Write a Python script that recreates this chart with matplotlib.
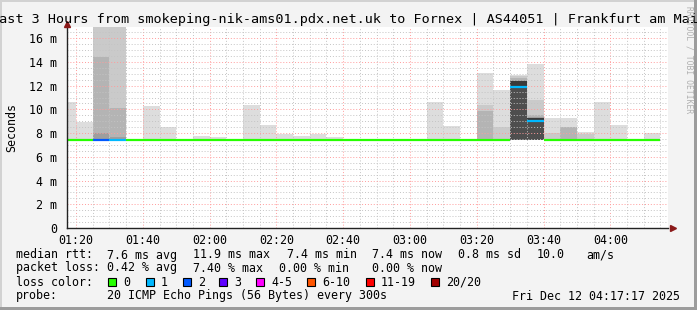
import numpy as np
import matplotlib
matplotlib.use("Agg")
import matplotlib.pyplot as plt
from matplotlib.patches import Rectangle
from matplotlib.ticker import MultipleLocator, FuncFormatter

# dados (ms), um valor por intervalo de 5 min, de 01:15 a 04:10
bin_start = np.arange(75, 255, 5)  # minutos desde 00:00
nan = np.nan

median_ms = [7.45, 7.45, 7.45, 7.45, 7.45, 7.45, 7.45, 7.45, 7.45, 7.45, 7.45, 7.45,
             7.45, 7.45, 7.45, 7.45, 7.45, 7.45, 7.45, 7.45, 7.45, 7.45, 7.45, 7.45,
             7.45, 7.45, 7.45, 11.9, 9.0, 7.45, 7.45, 7.45, 7.45, 7.45, 7.45, 7.45]
loss_idx = [0, 0, 2, 1, 0, 0, 0, 0, 0, 0, 0, 0,
            0, 0, 0, 0, 0, 0, 0, 0, 0, 0, 0, 0,
            0, 0, 0, 1, 1, 0, 0, 0, 0, 0, 0, 0]

# camadas de "fumaça" (topo de cada camada), da mais externa para a mais interna
smoke_1 = [10.6, 8.9, 17.5, 17.5, nan, 10.3, 8.5, nan, 7.8, 7.65, nan, 10.4,
           8.7, 7.9, 7.75, 7.9, 7.65, nan, nan, nan, nan, nan, 10.65, 8.6,
           nan, 13.05, 11.6, 12.9, 13.85, 9.25, 9.3, 8.1, 10.65, 8.65, nan, 8.05]
smoke_2 = [nan, nan, 17.5, 17.5, nan, nan, nan, nan, nan, nan, nan, nan,
           nan, nan, nan, nan, nan, nan, nan, nan, nan, nan, nan, nan,
           nan, 10.4, 8.5, 12.8, 10.8, 8.0, 8.55, 7.9, nan, nan, nan, nan]
smoke_3 = [nan, nan, 14.4, 10.1, nan, nan, nan, nan, nan, nan, nan, nan,
           nan, nan, nan, nan, nan, nan, nan, nan, nan, nan, nan, nan,
           nan, 9.9, nan, 12.65, 9.5, nan, 8.5, nan, nan, nan, nan, nan]
smoke_4 = [nan, nan, 8.0, 7.7, nan, nan, nan, nan, nan, nan, nan, nan,
           nan, nan, nan, nan, nan, nan, nan, nan, nan, nan, nan, nan,
           nan, nan, nan, 12.5, 9.4, nan, nan, nan, nan, nan, nan, nan]
smoke_5 = [nan, nan, nan, nan, nan, nan, nan, nan, nan, nan, nan, nan,
           nan, nan, nan, nan, nan, nan, nan, nan, nan, nan, nan, nan,
           nan, nan, nan, 12.4, 9.25, nan, nan, nan, nan, nan, nan, nan]
smoke_6 = [nan, nan, nan, nan, nan, nan, nan, nan, nan, nan, nan, nan,
           nan, nan, nan, nan, nan, nan, nan, nan, nan, nan, nan, nan,
           nan, nan, nan, 12.0, 9.1, nan, nan, nan, nan, nan, nan, nan]
smoke_base = 7.45

loss_labels = ["0", "1", "2", "3", "4-5", "6-10", "11-19", "20/20"]
loss_colors = ["#26ff00", "#00b8ff", "#0059ff", "#5e00ff", "#ff00ff", "#ff5500", "#ff0000", "#a10000"]

xtick_min = [80, 100, 120, 140, 160, 180, 200, 220, 240]
xtick_lab = ["01:20", "01:40", "02:00", "02:20", "02:40", "03:00", "03:20", "03:40", "04:00"]

W, H = 697, 310
MONO = "DejaVu Sans Mono"
fig = plt.figure(figsize=(W / 100, H / 100), dpi=100, facecolor="#f3f3f3")
ax = fig.add_axes([67 / W, 1 - 228 / H, 601 / W, 201 / H])
ax.set_facecolor("white")

layers = [(smoke_1, "#dddddd"), (smoke_2, "#cacaca"), (smoke_3, "#b4b4b4"),
          (smoke_4, "#9e9e9e"), (smoke_5, "#3a3a3a"), (smoke_6, "#4e4e4e")]
for vals, col in layers:
    v = np.array(vals, dtype=float)
    ok = ~np.isnan(v)
    ax.bar(bin_start[ok], v[ok] - smoke_base, bottom=smoke_base, width=5, align="edge",
           color=col, linewidth=0, zorder=1)

# linha da mediana colorida pela perda
ax.hlines(median_ms, bin_start, bin_start + 5, colors=[loss_colors[i] for i in loss_idx],
          linewidth=1.6, zorder=4)

ax.set_xlim(77.283, 257.283)
ax.set_ylim(0, 16.95)
ax.set_xticks(xtick_min)
ax.set_xticklabels(xtick_lab)
ax.xaxis.set_minor_locator(MultipleLocator(5))
ax.yaxis.set_major_locator(MultipleLocator(2))
ax.yaxis.set_minor_locator(MultipleLocator(0.5))
ax.yaxis.set_major_formatter(FuncFormatter(lambda v, p: "0" if v == 0 else "%d m" % v))
ax.tick_params(which="both", length=0, labelsize=8.4)
ax.tick_params(axis="x", pad=4)
ax.tick_params(axis="y", pad=7)
for lab in ax.get_xticklabels() + ax.get_yticklabels():
    lab.set_fontfamily(MONO)
ax.grid(which="minor", color="#c4c4c4", linestyle=(0, (1, 2)), linewidth=0.7, zorder=3)
ax.grid(which="major", color="#ff9c9c", linestyle=(0, (1, 2)), linewidth=0.7, zorder=3)
ax.set_axisbelow(False)
for s in ["top", "right"]:
    ax.spines[s].set_visible(False)
for s in ["left", "bottom"]:
    ax.spines[s].set_color("#222222")
    ax.spines[s].set_linewidth(1.0)
    ax.spines[s].set_zorder(5)

# setas dos eixos
ax.plot([1.008], [0], marker=">", markersize=5, color="#8b1a1a", transform=ax.transAxes, clip_on=False, zorder=6)
ax.plot([0], [1.015], marker="^", markersize=5, color="#8b1a1a", transform=ax.transAxes, clip_on=False, zorder=6)

ax.set_ylabel("Seconds", fontfamily=MONO, fontsize=8.4, labelpad=8)

def px_text(x, y, s, **kw):
    kw.setdefault("fontfamily", MONO)
    kw.setdefault("fontsize", 8.4)
    kw.setdefault("va", "center")
    fig.text(x / W, 1 - y / H, s, **kw)

px_text(348.5, 20, "Last 3 Hours from smokeping-nik-ams01.pdx.net.uk to Fornex | AS44051 | Frankfurt am Main",
        fontsize=9.7, ha="center")
px_text(689, 60, "RRDTOOL / TOBI OETIKER", fontsize=5.8, color="#b0b0b0", rotation=270, ha="center")

# legenda
px_text(16, 255, "median rtt:")
for x, s in [(107, "7.6 ms avg"), (193, "11.9 ms max"), (287, "7.4 ms min"),
             (372, "7.4 ms now"), (458, "0.8 ms sd"), (537, "10.0"), (586, "am/s")]:
    px_text(x, 255, s)
px_text(16, 268, "packet loss:")
for x, s in [(107, "0.42 % avg"), (193, "7.40 % max"), (279, "0.00 % min"), (372, "0.00 % now")]:
    px_text(x, 268, s)
px_text(16, 282, "loss color:")
box_x = [108, 146, 183, 219, 256, 307, 366, 431]
for bx, lab, col in zip(box_x, loss_labels, loss_colors):
    fig.patches.append(Rectangle((bx / W, 1 - 286 / H), 8 / W, 8 / H, transform=fig.transFigure,
                                 facecolor=col, edgecolor="black", linewidth=0.8))
    px_text(bx + 15, 282, lab)
px_text(16, 296, "probe:")
px_text(107, 296, "20 ICMP Echo Pings (56 Bytes) every 300s")
px_text(680, 296, "Fri Dec 12 04:17:17 2025", ha="right")

# moldura
fig.patches.append(Rectangle((0, 0), 2 / W, 1, transform=fig.transFigure, facecolor="#d2d2d2", linewidth=0))
fig.patches.append(Rectangle((0, 1 - 2 / H), 1, 2 / H, transform=fig.transFigure, facecolor="#d2d2d2", linewidth=0))
fig.patches.append(Rectangle((1 - 3 / W, 0), 3 / W, 1, transform=fig.transFigure, facecolor="#9c9c9c", linewidth=0))
fig.patches.append(Rectangle((0, 0), 1, 3 / H, transform=fig.transFigure, facecolor="#9c9c9c", linewidth=0))

fig.savefig("out.png", dpi=100, facecolor=fig.get_facecolor())
